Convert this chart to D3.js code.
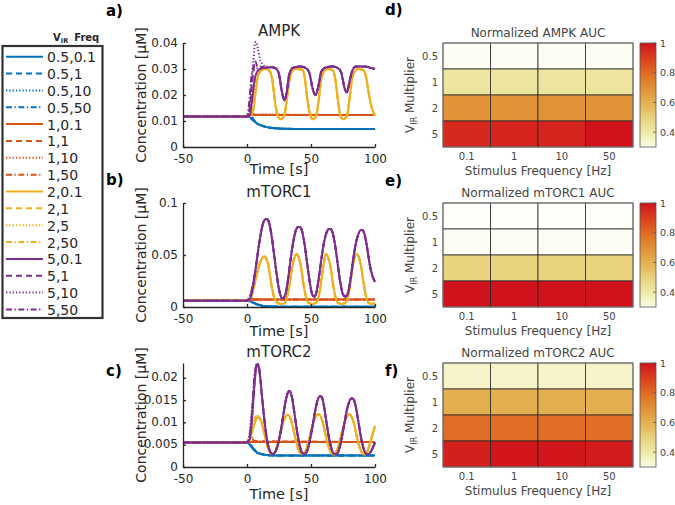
<!doctype html>
<html>
<head>
<meta charset="utf-8">
<script src="https://d3js.org/d3.v7.min.js"></script>
<style>
  body { margin: 0; background: #fff; }
  text { font-family: "DejaVu Sans", sans-serif; }
</style>
</head>
<body>
<svg width="675" height="505"></svg>
<script>
// ---------- data ----------
const virLevels = ["0.5", "1", "2", "5"];
const freqLabels = [["0.1", "1", "10", "50"], ["0.1", "1", "10", "50"], ["0.1", "1", "5", "50"], ["0.1", "1", "10", "50"]];
const xTicks = [-50, 0, 50, 100];
const ampkTicks = [0, 0.01, 0.02, 0.03, 0.04];
const mtorc1Ticks = [0, 0.05, 0.1];
const mtorc2Ticks = [0, 0.005, 0.01, 0.015, 0.02];

// AMPK, [time s, conc uM]
const ampk05 = [[-50,.0117],[0,.0117],[2,.0115],[4,.0105],[6,.0098],[8,.009],[10,.0085],[13,.008],[17,.0075],[22,.0072],[30,.007],[50,.0069],[100,.0069]];
const ampk1 = [[-50,.0117],[0,.0117],[3,.0122],[6,.0123],[100,.0123]];
const ampk2 = [[-50,.0117],[0,.0117],[3,.012],[5,.014],[7,.022],[9,.028],[11,.0295],[15,.030],[18,.029],[20,.025],[22,.017],[24,.012],[26.5,.0107],[29,.012],[31,.018],[33,.025],[35,.029],[38,.030],[43,.0298],[45,.027],[47,.019],[49,.013],[51.5,.0107],[54,.012],[56,.018],[58,.026],[60,.029],[63,.030],[67,.0295],[69,.026],[71,.018],[73,.012],[75.5,.0107],[78,.012],[80,.018],[82,.026],[84,.029],[87,.030],[91,.0295],[93,.027],[95,.021],[97,.016],[100,.012]];
const ampk5 = [[-50,.0117],[0,.0117],[2,.012],[4,.018],[6,.026],[8,.029],[10,.030],[14,.0305],[20,.0307],[23,.030],[25,.028],[27,.022],[29,.018],[31,.021],[33,.028],[36,.0305],[42,.031],[47,.030],[49,.028],[51,.023],[53.5,.020],[56,.024],[58,.029],[61,.0305],[67,.031],[72,.030],[74,.028],[76,.023],[78,.021],[80,.025],[82,.029],[85,.031],[92,.031],[96,.0305],[100,.030]];
const ampkStart05 = [[], [[0,.0117],[2,.0121],[4,.0112],[6,.0099]], [[0,.0117],[2,.0128],[3,.0122],[5,.0104],[7,.0094]], [[0,.0117],[1.5,.0124],[3,.0132],[4,.0115],[6,.0099]]];
const ampkStart1 = [[], [[0,.0117],[2,.0128],[3.5,.0131],[5,.0124]], [[0,.0117],[2,.014],[3,.0158],[4,.0138],[6,.0125]], [[0,.0117],[1.5,.013],[3,.0146],[4.5,.013],[6,.0124]]];
const ampkStart2 = [[], [[0,.0117],[3,.0125],[5,.016],[7,.023],[9,.028]], [[0,.0117],[2,.013],[3.5,.017],[5,.020],[6.5,.024],[8,.028]], [[0,.0117],[2,.014],[4,.019],[6,.025],[8,.0285]]];
const ampkStart5 = [[], [[0,.0117],[2,.014],[3.5,.022],[5,.029],[6.5,.033],[8,.031],[10,.0305]], [[0,.0117],[2,.015],[3.5,.024],[5,.033],[6,.039],[7,.0405],[8.5,.038],[10,.034],[12,.032],[14,.031]], [[0,.0117],[1.5,.016],[3,.025],[4.5,.030],[6,.0315],[8,.0305],[10,.031]]];

// mTORC1
const mtorc1_05 = [[-50,.006],[0,.006],[2,.0055],[4,.0045],[6,.0035],[8,.0025],[11,.0015],[15,.0008],[20,.0005],[30,.0003],[100,.0003]];
const mtorc1_1 = [[-50,.006],[0,.006],[3,.0068],[6,.0072],[100,.0073]];
const mtorc1_2 = [[-50,.006],[0,.006],[2,.0065],[4,.012],[6,.022],[8,.033],[10,.042],[12,.047],[13.5,.0485],[15,.047],[17,.038],[19,.022],[21,.010],[23,.005],[26,.003],[29,.0035],[31,.008],[33,.020],[35,.036],[37,.047],[38.5,.051],[40,.049],[42,.040],[44,.023],[46,.010],[48,.004],[51,.003],[54,.004],[56,.010],[58,.025],[60,.042],[61.5,.051],[63,.049],[65,.040],[67,.024],[69,.010],[71,.004],[74,.003],[77,.004],[79,.010],[81,.025],[83,.042],[85.5,.051],[87,.049],[89,.040],[91,.024],[93,.010],[95,.004],[98,.003],[100,.004]];
const mtorc1_5 = [[-50,.006],[0,.006],[2,.007],[4,.015],[6,.030],[8,.048],[10,.065],[12,.078],[14,.084],[15.5,.0845],[17,.082],[19,.070],[21,.052],[23,.033],[25,.017],[27,.009],[28,.0083],[30,.012],[32,.026],[34,.045],[36,.062],[38,.073],[40,.077],[41.5,.077],[43,.073],[45,.060],[47,.042],[49,.024],[51,.012],[52.5,.0099],[54,.013],[56,.027],[58,.045],[60,.061],[62,.071],[64,.075],[65.5,.075],[67,.071],[69,.058],[71,.040],[73,.023],[75,.012],[77,.010],[79,.014],[81,.028],[83,.046],[85,.061],[87,.070],[89,.074],[90,.074],[92,.069],[94,.056],[96,.040],[98,.030],[100,.024]];
const mtorc1Start05 = [[], [[0,.006],[2,.0058],[4,.0046]], [[0,.006],[2,.0064],[4,.0048],[6,.0036]], [[0,.006],[1.5,.0063],[3,.0052],[5,.004]]];
const mtorc1Start1 = [[], [[0,.006],[2,.007],[4,.0071]], [[0,.006],[2,.0075],[3,.009],[4.5,.0078],[6,.0073]], [[0,.006],[1.5,.0072],[3,.0082],[5,.0073]]];
const mtorc1Start2 = [[], [[0,.006],[2,.007],[4,.012]], [[0,.006],[2,.0075],[4,.013],[6,.023]], [[0,.006],[2,.008],[4,.014],[6,.024]]];
const mtorc1Start5 = [[], [[0,.006],[2,.008],[4,.016]], [[0,.006],[2,.009],[4,.017],[6,.032]], [[0,.006],[1.5,.009],[3.5,.016],[6,.031]]];

// mTORC2
const mtorc2_05 = [[-50,.0055],[0,.0055],[2,.005],[4,.0043],[6,.0037],[8,.0032],[11,.0029],[15,.0027],[20,.0026],[100,.0026]];
const mtorc2_1 = [[-50,.0055],[0,.0055],[3,.0056],[100,.0056]];
const mtorc2_2 = [[-50,.0055],[0,.0055],[2,.006],[4,.0078],[6,.0098],[8,.011],[9,.0111],[11,.0103],[13,.0082],[15,.0057],[17,.0038],[19,.0029],[21,.003],[23,.0042],[25,.0062],[27,.0085],[29,.0106],[31,.0116],[32,.0117],[34,.0108],[36,.0088],[38,.0062],[40,.0041],[42,.003],[44,.0029],[46,.0038],[48,.0057],[50,.008],[52,.0101],[54,.0114],[56,.0118],[58,.011],[60,.009],[62,.0064],[64,.0043],[66,.0031],[68,.0028],[70,.0035],[72,.0053],[74,.0076],[76,.0098],[78,.0112],[80,.0118],[82,.0111],[84,.0092],[86,.0066],[88,.0044],[90,.0031],[92,.0028],[94,.0035],[96,.0052],[98,.0072],[100,.0092]];
const mtorc2_5 = [[-50,.0055],[0,.0055],[2,.0062],[4,.011],[6,.019],[7.5,.0228],[8.5,.0231],[10,.021],[12,.015],[14,.0095],[16,.0055],[18,.0035],[20,.0029],[22,.0033],[24,.0048],[26,.0075],[28,.011],[30,.0145],[32,.0167],[33,.0171],[35,.0158],[37,.0122],[39,.0082],[41,.005],[43,.0032],[45,.0029],[47,.0036],[49,.0058],[51,.0088],[53,.0122],[55,.0148],[57,.0159],[58.5,.0156],[60,.0138],[62,.0102],[64,.0066],[66,.0041],[68,.003],[70,.0029],[72,.004],[74,.0065],[76,.0096],[78,.0127],[80,.0147],[82,.0154],[83.5,.015],[85,.0135],[87,.0102],[89,.0067],[91,.0042],[93,.003],[95,.0029],[97,.0036],[99,.0048],[100,.0055]];
const mtorc2Start05 = [[], [[0,.0055],[2,.0053],[4,.0044]], [[0,.0055],[2,.0056],[3,.005],[5,.0042],[7,.0036]], [[0,.0055],[2,.0052],[4,.0047],[6,.0039]]];
const mtorc2Start1 = [[], [[0,.0055],[2.5,.006],[4,.0058]], [[0,.0055],[2,.0066],[3,.0073],[4.5,.0065],[6,.0057]], [[0,.0055],[2,.0063],[3.5,.0068],[5,.006],[7,.0057]]];
const mtorc2Start2 = [[], [[0,.0055],[2,.0063],[4,.008],[6,.0099]], [[0,.0055],[2,.0068],[4,.0085],[6,.0103],[8,.0115],[9.5,.0112]], [[0,.0055],[2,.0065],[4,.0082],[6,.0105],[7.5,.0116],[9,.0113]]];
const mtorc2Start5 = [[], [[0,.0055],[2.5,.0075],[4.5,.0135],[6.5,.021],[8,.0229]], [[0,.0055],[2,.0075],[4,.0135],[6,.0205],[7.5,.0233],[9,.0226],[11,.0175]], [[0,.0055],[2,.0068],[4,.0125],[6,.021],[8,.023],[9.5,.0222]]];

// heatmaps: rows = V_IR multiplier, columns = stimulus frequency
const heatFreq = ["0.1", "1", "10", "50"];
const heatVir = ["0.5", "1", "2", "5"];
const aucAmpk = [[.25,.25,.25,.25],[.42,.42,.42,.42],[.69,.69,.69,.69],[.95,.96,.96,1.0]];
const aucMtorc1 = [[.22,.22,.22,.22],[.25,.25,.25,.25],[.49,.49,.49,.49],[1.0,1.0,1.0,1.0]];
const aucMtorc2 = [[.35,.35,.35,.35],[.60,.60,.60,.60],[.79,.79,.79,.79],[.97,.99,.99,.98]];
const cbTicks = [0.4, 0.6, 0.8, 1];
const cmapStops = [0.3, 0.4, 0.5, 0.6, 0.7, 0.8, 0.9, 1.0];
const cmapColors = ["#fbfbe6", "#eeeaa8", "#e8d07a", "#e4b04f", "#e29035", "#e06a24", "#d9401f", "#d0121c"];

// ---------- drawing ----------
const svg = d3.select("svg");
const lineColors = ["#0072BD", "#D95319", "#EDB120", "#7E2F8E"];
const dashes = [null, "6,4", "1.3,2", "6,2.5,1.3,2.5"];
const ink = "#262626";

function withStart(base, early) {
    if (!early.length) return base;
    const t0 = early[0][0], t1 = early[early.length - 1][0];
    return base.filter(p => p[0] < t0).concat(early, base.filter(p => p[0] > t1));
}
function group(bases, starts) {
    return bases.map((b, i) => starts[i].map(s => withStart(b, s)));
}

const x = d3.scaleLinear().domain([-50, 100]).range([183, 375]);

const panels = [
    { label: "a)", ly: 16, title: "AMPK", ty: 36, top: 43, bottom: 147, domain: [0, 0.04], ticks: ampkTicks, xlab: 174,
      curves: group([ampk05, ampk1, ampk2, ampk5], [ampkStart05, ampkStart1, ampkStart2, ampkStart5]) },
    { label: "b)", ly: 185, title: "mTORC1", ty: 197, top: 203, bottom: 307, domain: [0, 0.1], ticks: mtorc1Ticks, xlab: 336,
      curves: group([mtorc1_05, mtorc1_1, mtorc1_2, mtorc1_5], [mtorc1Start05, mtorc1Start1, mtorc1Start2, mtorc1Start5]) },
    { label: "c)", ly: 376, title: "mTORC2", ty: 357, top: 363, bottom: 467, domain: [0, 0.0233], ticks: mtorc2Ticks, xlab: 499,
      curves: group([mtorc2_05, mtorc2_1, mtorc2_2, mtorc2_5], [mtorc2Start05, mtorc2Start1, mtorc2Start2, mtorc2Start5]) }
];

panels.forEach(function (p, pi) {
    const y = d3.scaleLinear().domain(p.domain).range([p.bottom, p.top]);
    const line = d3.line().x(d => x(d[0])).y(d => y(d[1])).curve(d3.curveMonotoneX);

    svg.append("clipPath").attr("id", "clip" + pi)
        .append("rect").attr("x", 183).attr("y", p.top - 2).attr("width", 193).attr("height", p.bottom - p.top + 2);

    const g = svg.append("g").attr("clip-path", "url(#clip" + pi + ")");
    p.curves.forEach(function (row, vi) {
        row.forEach(function (pts, fi) {
            g.append("path")
                .datum(pts)
                .attr("d", line)
                .attr("fill", "none")
                .attr("stroke", lineColors[vi])
                .attr("stroke-width", 2)
                .attr("stroke-dasharray", dashes[fi]);
        });
    });

    const xa = svg.append("g")
        .attr("transform", "translate(0," + p.bottom + ")")
        .call(d3.axisBottom(x).tickValues(xTicks).tickSize(-3).tickSizeOuter(0).tickPadding(7).tickFormat(d => String(d)));
    const ya = svg.append("g")
        .attr("transform", "translate(183,0)")
        .call(d3.axisLeft(y).tickValues(p.ticks).tickSize(-3).tickSizeOuter(0).tickPadding(5).tickFormat(d => String(d)));
    [xa, ya].forEach(a => {
        a.selectAll("path, line").attr("stroke", ink).attr("stroke-width", 1.3);
        a.selectAll("text").attr("fill", ink).attr("font-size", 12).attr("font-family", "DejaVu Sans");
    });
    ya.selectAll("text").attr("dy", "0.25em");

    svg.append("text").attr("x", 279).attr("y", p.ty).attr("text-anchor", "middle")
        .attr("font-size", 15).attr("fill", ink).text(p.title);
    svg.append("text").attr("x", 279).attr("y", p.xlab).attr("text-anchor", "middle")
        .attr("font-size", 14.5).attr("fill", ink).text("Time [s]");
    svg.append("text").attr("transform", "translate(146," + (p.top + p.bottom) / 2 + ") rotate(-90)")
        .attr("text-anchor", "middle").attr("font-size", 14).attr("fill", ink).text("Concentration [\u03bcM]");
    svg.append("text").attr("x", 106).attr("y", p.ly).attr("font-size", 15).attr("font-weight", "bold")
        .attr("fill", "#000").text(p.label);
});

// legend
const legend = svg.append("g");
legend.append("rect").attr("x", 2.5).attr("y", 46).attr("width", 100).attr("height", 272)
    .attr("fill", "#fff").attr("stroke", "#333").attr("stroke-width", 2.2);
const head = legend.append("text").attr("x", 53).attr("y", 41).attr("font-size", 10).attr("font-weight", "bold").attr("fill", ink);
head.append("tspan").text("V");
head.append("tspan").attr("font-size", 6.5).attr("dy", 2).text("IR");
head.append("tspan").attr("dy", -2).attr("dx", 6).text("Freq");
virLevels.forEach(function (v, vi) {
    freqLabels[vi].forEach(function (f, fi) {
        const ly = 56.7 + (vi * 4 + fi) * 16.85;
        legend.append("line").attr("x1", 6).attr("x2", 43).attr("y1", ly).attr("y2", ly)
            .attr("stroke", lineColors[vi]).attr("stroke-width", 2).attr("stroke-dasharray", dashes[fi]);
        legend.append("text").attr("x", 47).attr("y", ly + 5.5).attr("font-size", 14).attr("fill", ink).text(v + "," + f);
    });
});

// heatmaps
const cmap = d3.scaleLinear().domain([0.2].concat(cmapStops)).range(["#ffffff"].concat(cmapColors)).clamp(true);
const grad = svg.append("defs").append("linearGradient").attr("id", "cbgrad")
    .attr("x1", 0).attr("y1", 1).attr("x2", 0).attr("y2", 0);
cmapStops.forEach((s, i) => grad.append("stop").attr("offset", (s - 0.3) / 0.7).attr("stop-color", cmapColors[i]));

const heats = [
    { label: "d)", ly: 15, title: "Normalized AMPK AUC", top: 43, bottom: 147, vals: aucAmpk },
    { label: "e)", ly: 186, title: "Normalized mTORC1 AUC", top: 203, bottom: 307, vals: aucMtorc1 },
    { label: "f)", ly: 376, title: "Normalized mTORC2 AUC", top: 363, bottom: 467, vals: aucMtorc2 }
];
const hgray = "#444";

heats.forEach(function (h) {
    const hx = d3.scaleBand().domain(heatFreq).range([443, 633]);
    const hy = d3.scaleBand().domain(heatVir).range([h.top, h.bottom]);
    const g = svg.append("g");
    heatVir.forEach(function (v, r) {
        heatFreq.forEach(function (f, c) {
            g.append("rect").attr("x", hx(f)).attr("y", hy(v))
                .attr("width", hx.bandwidth()).attr("height", hy.bandwidth())
                .attr("fill", cmap(h.vals[r][c])).attr("stroke", "#2b2b2b").attr("stroke-width", 0.8);
        });
    });
    g.append("rect").attr("x", 443).attr("y", h.top).attr("width", 190).attr("height", h.bottom - h.top)
        .attr("fill", "none").attr("stroke", "#808080").attr("stroke-width", 1);

    heatVir.forEach(v => g.append("text").attr("x", 438).attr("y", hy(v) + hy.bandwidth() / 2 + 3.5)
        .attr("text-anchor", "end").attr("font-size", 10).attr("fill", hgray).text(v));
    heatFreq.forEach(f => g.append("text").attr("x", hx(f) + hx.bandwidth() / 2).attr("y", h.bottom + 13)
        .attr("text-anchor", "middle").attr("font-size", 10).attr("fill", hgray).text(f));

    g.append("text").attr("x", 538).attr("y", h.bottom + 28).attr("text-anchor", "middle")
        .attr("font-size", 12).attr("fill", hgray).text("Stimulus Frequency [Hz]");
    g.append("text").attr("x", 538).attr("y", h.top - 6).attr("text-anchor", "middle")
        .attr("font-size", 12).attr("fill", hgray).text(h.title);
    const yl = g.append("text").attr("transform", "translate(414," + (h.top + h.bottom) / 2 + ") rotate(-90)")
        .attr("text-anchor", "middle").attr("font-size", 12).attr("fill", hgray);
    yl.append("tspan").text("V");
    yl.append("tspan").attr("font-size", 8).attr("dy", 3).text("IR");
    yl.append("tspan").attr("dy", -3).text(" Multiplier");

    // colorbar
    const cb = d3.scaleLinear().domain([0.3, 1]).range([h.bottom, h.top]);
    g.append("rect").attr("x", 640).attr("y", h.top).attr("width", 16).attr("height", h.bottom - h.top)
        .attr("fill", "url(#cbgrad)").attr("stroke", "#555").attr("stroke-width", 0.8);
    cbTicks.forEach(function (t) {
        g.append("line").attr("x1", 653).attr("x2", 656).attr("y1", cb(t)).attr("y2", cb(t))
            .attr("stroke", "#555").attr("stroke-width", 0.8);
        g.append("text").attr("x", 660).attr("y", cb(t) + 3.5).attr("font-size", 9.5).attr("fill", hgray).text(String(t));
    });

    svg.append("text").attr("x", 385).attr("y", h.ly).attr("font-size", 15).attr("font-weight", "bold")
        .attr("fill", "#000").text(h.label);
});
</script>
</body>
</html>
